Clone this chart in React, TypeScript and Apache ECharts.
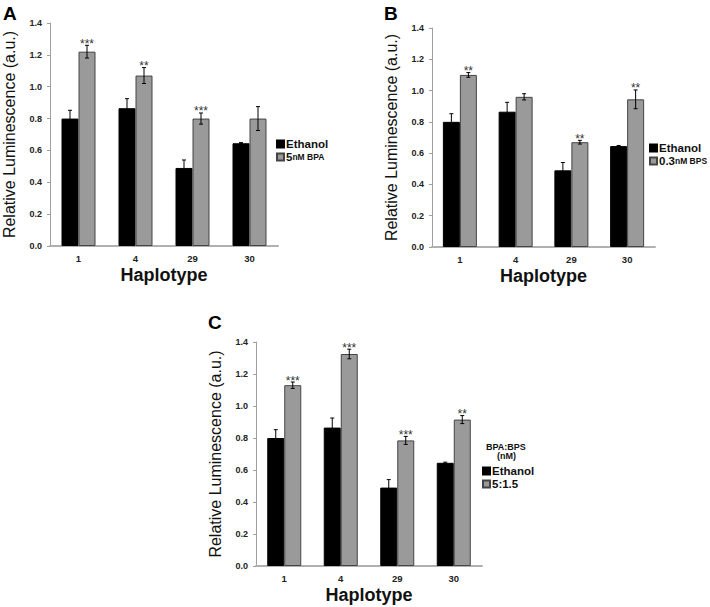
import React, { useEffect, useRef } from 'react';
import * as echarts from 'echarts';

const haplotypes = ['1', '4', '29', '30'];
const ethanolMean = [0.8, 0.865, 0.49, 0.645];
const ethanolErr = [0.052, 0.06, 0.05, 0.004];

const bpaMean = [1.22, 1.07, 0.8, 0.8];
const bpaErr = [0.04, 0.05, 0.035, 0.075];
const bpaStars = ['***', '**', '***', ''];

const bpsMean = [1.1, 0.96, 0.67, 0.944];
const bpsErr = [0.015, 0.02, 0.012, 0.06];
const bpsStars = ['**', '', '**', '**'];

const mixMean = [1.13, 1.325, 0.785, 0.915];
const mixErr = [0.02, 0.03, 0.025, 0.025];
const mixStars = ['***', '***', '***', '**'];

const seriesNames = ['5nM BPA', '0.3nM BPS', '5:1.5'];
const yMin = 0;
const yMax = 1.4;
const yStep = 0.2;

const FONT = 'Liberation Sans, Arial, sans-serif';
const GRAY = '#9a9a9a';
const BAR_W = 17;

const grids = [
  { left: 49, top: 23, width: 229, height: 223 },
  { left: 432, top: 28, width: 223, height: 219 },
  { left: 256, top: 342, width: 226, height: 224 },
];

function makeXAxis(i: number) {
  return {
    type: 'category',
    gridIndex: i,
    data: haplotypes,
    axisLine: { lineStyle: { color: '#b0b0b0', width: 2 } },
    axisTick: { show: false },
    axisLabel: { fontFamily: FONT, fontWeight: 'bold', fontSize: 9.5, color: '#222', margin: 7 },
    name: 'Haplotype',
    nameLocation: 'middle',
    nameGap: 20,
    nameTextStyle: { fontFamily: FONT, fontSize: 18, fontWeight: 'bold', color: '#111' },
  };
}

function makeYAxis(i: number) {
  return {
    type: 'value',
    gridIndex: i,
    min: yMin,
    max: yMax,
    interval: yStep,
    axisLine: { show: true, lineStyle: { color: '#a0a0a0', width: 1 } },
    axisTick: { show: true, length: 3, lineStyle: { color: '#a0a0a0' } },
    splitLine: { show: false },
    axisLabel: {
      fontFamily: FONT,
      fontWeight: 'bold',
      fontSize: 9,
      color: '#222',
      margin: 8,
      formatter: (v: number) => v.toFixed(1),
    },
    name: 'Relative Luminescence (a.u.)',
    nameLocation: 'middle',
    nameGap: 33,
    nameTextStyle: { fontFamily: FONT, fontSize: 16, color: '#111' },
  };
}

function barSeries(name: string, values: number[], i: number, black: boolean) {
  return {
    type: 'bar',
    name,
    xAxisIndex: i,
    yAxisIndex: i,
    data: values,
    barWidth: BAR_W,
    barGap: '0%',
    itemStyle: black
      ? { color: '#000', borderColor: '#000', borderWidth: 1 }
      : { color: GRAY, borderColor: '#444', borderWidth: 1 },
  };
}

function errSeries(means: number[], errs: number[], stars: string[], i: number, offset: number) {
  return {
    type: 'custom',
    xAxisIndex: i,
    yAxisIndex: i,
    silent: true,
    z: 5,
    data: means.map((m, k) => [k, m, errs[k]]),
    renderItem: (params: any, api: any) => {
      const idx = api.value(0);
      const mean = api.value(1);
      const err = api.value(2);
      const top = api.coord([idx, mean + err]);
      const bot = api.coord([idx, mean - err]);
      const x = top[0] + offset;
      const cap = 2;
      const ls = { stroke: '#000', lineWidth: 1 };
      const children: any[] = [
        { type: 'line', shape: { x1: x, y1: top[1], x2: x, y2: bot[1] }, style: ls },
        { type: 'line', shape: { x1: x - cap, y1: top[1], x2: x + cap, y2: top[1] }, style: ls },
        { type: 'line', shape: { x1: x - cap, y1: bot[1], x2: x + cap, y2: bot[1] }, style: ls },
      ];
      const s = stars[params.dataIndex];
      if (s) {
        children.push({
          type: 'text',
          style: {
            x,
            y: top[1] - 1.5,
            text: s,
            fill: '#333',
            font: `12px ${FONT}`,
            align: 'center',
            verticalAlign: 'middle',
          },
        });
      }
      return { type: 'group', children };
    },
  };
}

const legendBase = {
  orient: 'vertical',
  icon: 'rect',
  itemWidth: 7,
  itemHeight: 7,
  itemGap: 1,
  padding: 0,
  selectedMode: false,
  textStyle: {
    fontFamily: FONT,
    fontWeight: 'bold',
    fontSize: 11.5,
    color: '#111',
    padding: [0, 0, 0, -3],
    rich: { s: { fontFamily: FONT, fontWeight: 'bold', fontSize: 8.5, color: '#111' } },
  },
  formatter: (name: string) => {
    if (name === seriesNames[0]) return '5{s|nM BPA}';
    if (name === seriesNames[1]) return '0.3{s|nM BPS}';
    return name;
  },
};

const option = {
  animation: false,
  backgroundColor: '#fff',
  grid: grids,
  xAxis: [0, 1, 2].map(makeXAxis),
  yAxis: [0, 1, 2].map(makeYAxis),
  legend: [
    { ...legendBase, left: 276, top: 138, data: ['Ethanol', seriesNames[0]] },
    { ...legendBase, left: 649, top: 142, data: ['Ethanol', seriesNames[1]] },
    { ...legendBase, left: 482, top: 465, data: ['Ethanol', seriesNames[2]] },
  ],
  graphic: [
    { type: 'text', left: 3, top: 4, style: { text: 'A', font: `bold 19px ${FONT}`, fill: '#000' } },
    { type: 'text', left: 384, top: 4, style: { text: 'B', font: `bold 19px ${FONT}`, fill: '#000' } },
    { type: 'text', left: 208, top: 313, style: { text: 'C', font: `bold 19px ${FONT}`, fill: '#000' } },
    { type: 'text', left: 486, top: 442, style: { text: 'BPA:BPS', font: `bold 9px ${FONT}`, fill: '#111' } },
    { type: 'text', left: 497, top: 451, style: { text: '(nM)', font: `bold 9px ${FONT}`, fill: '#111' } },
  ],
  series: [
    barSeries('Ethanol', ethanolMean, 0, true),
    barSeries(seriesNames[0], bpaMean, 0, false),
    errSeries(ethanolMean, ethanolErr, ['', '', '', ''], 0, -BAR_W / 2),
    errSeries(bpaMean, bpaErr, bpaStars, 0, BAR_W / 2),

    barSeries('Ethanol', ethanolMean, 1, true),
    barSeries(seriesNames[1], bpsMean, 1, false),
    errSeries(ethanolMean, ethanolErr, ['', '', '', ''], 1, -BAR_W / 2),
    errSeries(bpsMean, bpsErr, bpsStars, 1, BAR_W / 2),

    barSeries('Ethanol', ethanolMean, 2, true),
    barSeries(seriesNames[2], mixMean, 2, false),
    errSeries(ethanolMean, ethanolErr, ['', '', '', ''], 2, -BAR_W / 2),
    errSeries(mixMean, mixErr, mixStars, 2, BAR_W / 2),
  ],
};

export default function App() {
  const ref = useRef<HTMLDivElement>(null);
  useEffect(() => {
    if (!ref.current) return;
    const chart = echarts.init(ref.current, null, { renderer: 'svg' });
    chart.setOption(option as any);
    return () => chart.dispose();
  }, []);
  return (
    <div
      ref={ref}
      style={{ position: 'absolute', left: 0, top: 0, width: 710, height: 607, background: '#fff' }}
    />
  );
}
